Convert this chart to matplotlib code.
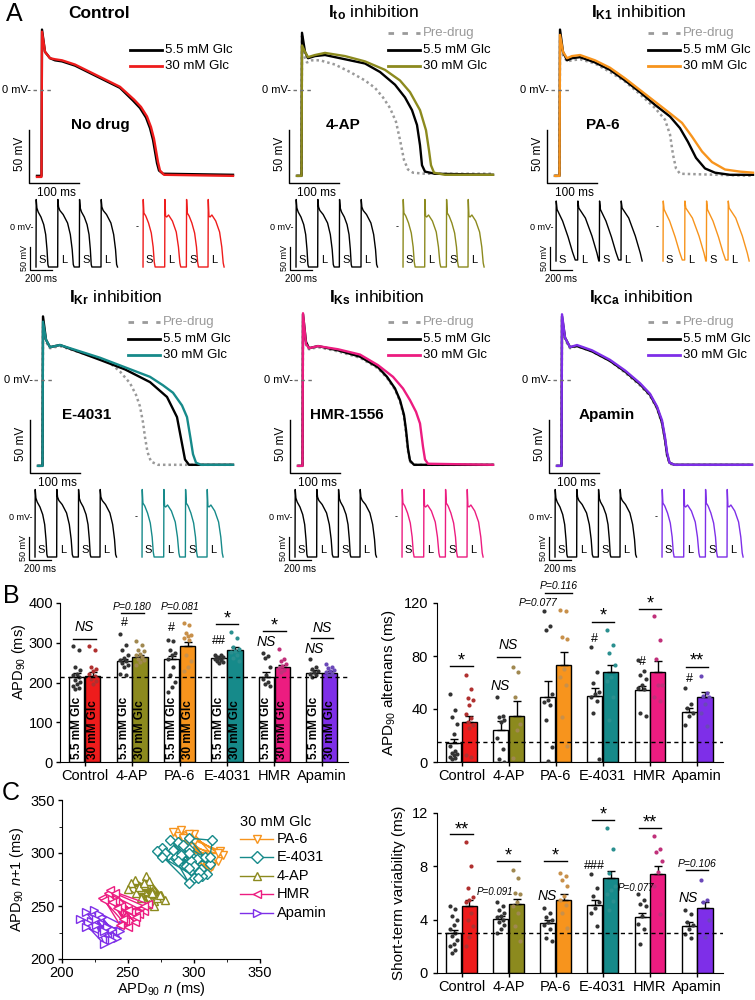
import numpy as np
import matplotlib
matplotlib.use("Agg")
import matplotlib.pyplot as plt
from matplotlib.lines import Line2D
from matplotlib.ticker import MultipleLocator

plt.rcParams['font.family'] = ['Liberation Sans', 'DejaVu Sans']
plt.rcParams['mathtext.fontset'] = 'custom'
plt.rcParams['mathtext.rm'] = 'Liberation Sans'
plt.rcParams['mathtext.it'] = 'Liberation Sans:italic'
plt.rcParams['mathtext.bf'] = 'Liberation Sans:bold'

W, H = 755, 1000

# colours
C_RED = '#ee1c1c'
C_OLIVE = '#8c8a1e'
C_ORANGE = '#f7941d'
C_TEAL = '#168a8a'
C_PINK = '#ec1c80'
C_PURPLE = '#7e2fe8'
C_GRAY = '#9a9a9a'
glc_colors = [C_RED, C_OLIVE, C_ORANGE, C_TEAL, C_PINK, C_PURPLE]
glc_dot_colors = ['#b0302f', '#a08850', '#c8904a', '#2a8f8f', '#c0307a', '#6a48b8']

# ---------------- Panel A : action potentials (t ms from upstroke, V mV) ----------------
ctrl55_t = [-10, -1, 0, 6, 16, 26, 40, 66, 96, 126, 156, 182, 196, 208, 216, 222, 226, 230, 234, 242, 382]
ctrl55_v = [-81, -81, 57, 36, 30, 28, 27, 23, 16, 9, 2, -10, -17, -26, -36, -47, -58, -69, -76, -79, -80]
ctrl30_t = [-10, -1, 0, 6, 16, 26, 40, 66, 96, 126, 156, 184, 198, 210, 218, 224, 228, 232, 236, 244, 382]
ctrl30_v = [-82, -82, 55, 36, 30, 29, 28, 24, 17, 10, 3, -9, -16, -25, -35, -46, -57, -68, -76, -80, -81]

ito_pre_t = [-10, -1, 0, 4, 10, 20, 36, 66, 96, 126, 146, 162, 176, 188, 196, 204, 212, 222, 246, 382]
ito_pre_v = [-81, -81, 51, 33, 26, 28, 28, 24, 17, 9, 2, -7, -17, -30, -47, -66, -75, -78, -79, -79]
ito55_t = [-10, -1, 0, 6, 12, 26, 46, 86, 126, 156, 186, 206, 220, 230, 236, 240, 246, 266, 382]
ito55_v = [-81, -81, 54, 36, 30, 32, 33, 29, 25, 17, 5, -7, -19, -33, -52, -71, -77, -79, -80]
ito30_t = [-10, -1, 0, 6, 12, 26, 46, 86, 126, 166, 196, 216, 236, 248, 254, 258, 264, 286, 382]
ito30_v = [-81, -81, 42, 36, 31, 33, 35, 32, 27, 19, 9, -2, -19, -38, -57, -71, -78, -80, -80]

ik1_pre_t = [-10, -1, 0, 6, 14, 24, 40, 70, 100, 130, 160, 190, 210, 220, 226, 232, 240, 386]
ik1_pre_v = [-81, -81, 47, 33, 27, 28, 29, 25, 17, 8, -4, -17, -28, -42, -61, -74, -79, -81]
ik155_t = [-10, -1, 0, 6, 14, 24, 40, 70, 100, 130, 160, 190, 220, 240, 256, 272, 290, 310, 340, 386]
ik155_v = [-81, -81, 57, 36, 28, 30, 31, 26, 19, 9, -2, -14, -25, -36, -49, -64, -74, -78, -80, -80]
ik130_t = [-10, -1, 0, 6, 14, 24, 40, 70, 100, 130, 160, 190, 220, 244, 264, 284, 304, 330, 360, 386]
ik130_v = [-81, -81, 52, 36, 30, 32, 33, 28, 21, 11, 0, -11, -22, -31, -44, -58, -68, -75, -77, -78]

ikr_pre_t = [-10, -1, 0, 6, 14, 34, 74, 114, 134, 154, 174, 186, 194, 200, 204, 209, 216, 230, 380]
ikr_pre_v = [-81, -81, 50, 36, 30, 32, 26, 20, 16, 8, -3, -14, -25, -40, -54, -68, -77, -80, -80]
ikr55_t = [-10, -1, 0, 6, 14, 34, 74, 114, 164, 214, 248, 268, 278, 284, 292, 380]
ikr55_v = [-81, -81, 60, 38, 31, 33, 26, 19, 10, -2, -16, -35, -60, -75, -80, -80]
ikr30_t = [-10, -1, 0, 6, 14, 34, 74, 114, 164, 214, 240, 260, 278, 288, 295, 300, 306, 316, 380]
ikr30_v = [-81, -81, 55, 38, 31, 33, 27, 21, 12, 3, -5, -12, -24, -35, -55, -70, -78, -80, -80]

iks_pre_t = [-10, -1, 0, 6, 12, 30, 70, 114, 150, 168, 184, 194, 202, 206, 210, 214, 222, 380]
iks_pre_v = [-81, -81, 55, 33, 29, 31, 27, 21, 11, 2, -9, -20, -35, -50, -67, -77, -80, -80]
iks55_t = [-10, -1, 0, 6, 12, 30, 70, 114, 150, 168, 184, 194, 202, 206, 210, 214, 222, 380]
iks55_v = [-81, -81, 62, 36, 30, 32, 28, 22, 12, 3, -8, -19, -33, -47, -65, -76, -80, -80]
iks30_t = [-10, -1, 0, 6, 12, 30, 70, 114, 150, 180, 200, 214, 226, 234, 240, 244, 250, 380]
iks30_v = [-81, -81, 63, 34, 30, 32, 29, 24, 14, 3, -8, -19, -30, -41, -63, -75, -79, -80]

ikca_t = [-10, -1, 0, 6, 16, 30, 60, 96, 126, 156, 176, 190, 200, 206, 210, 215, 225, 380]
ikca_pre_v = [-81, -81, 58, 38, 30, 32, 27, 18, 7, -5, -15, -27, -41, -57, -71, -79, -80, -80]
ikca55_v = [-81, -81, 60, 40, 31, 32, 27, 18, 8, -4, -14, -26, -40, -56, -70, -78, -80, -80]
ikca30_v = [-81, -81, 62, 40, 31, 33, 28, 19, 9, -3, -13, -25, -38, -54, -68, -78, -80, -80]

# small trains: beat shapes (ms, mV) and beat onsets
beat_s_t = [0, 2, 8, 20, 45, 70, 88, 100, 108, 114]
beat_s_v = [-80, 55, 38, 30, 20, 5, -15, -45, -75, -80]
beat_l_t = [0, 2, 8, 20, 50, 90, 115, 132, 142, 150]
beat_l_v = [-80, 55, 40, 33, 25, 8, -15, -45, -75, -80]
glc_s_t = [0, 2, 8, 25, 50, 75, 92, 102, 110]
glc_s_v = [-80, 55, 28, 22, 8, -12, -40, -70, -80]
glc_l_t = [0, 2, 8, 18, 35, 70, 105, 125, 138, 146]
glc_l_v = [-80, 55, 22, 20, 24, 12, -10, -40, -72, -80]
pa6_s_t = [0, 2, 10, 60, 110, 150, 175]
pa6_s_v = [-68, 52, 35, 12, -20, -50, -66]
pa6_l_t = [0, 2, 10, 70, 130, 175, 192]
pa6_l_v = [-66, 52, 38, 18, -18, -52, -68]
beat_onsets = [0, 197, 394, 591]
beat_kind = ['S', 'L', 'S', 'L']

# ---------------- Panel B / C : bar data ----------------
groups = ['Control', '4-AP', 'PA-6', 'E-4031', 'HMR', 'Apamin']

apd_55 = [215, 253, 258, 261, 215, 225]
apd_55_err = [10, 7, 8, 5, 12, 6]
apd_30 = [217, 263, 291, 283, 238, 224]
apd_30_err = [9, 5, 12, 6, 7, 4]
apd_55_dots = [[291, 283, 240, 232, 222, 218, 213, 207, 201, 195, 190, 186, 183],
               [323, 294, 281, 268, 262, 257, 253, 249, 245, 240, 222, 218],
               [308, 304, 281, 274, 270, 258, 240, 218, 201, 188, 175],
               [270, 268, 265, 263, 261, 259, 257, 255, 252, 250],
               [274, 266, 262, 240, 218, 209, 201, 195, 190],
               [258, 240, 235, 230, 226, 222, 218, 213]]
apd_30_dots = [[291, 281, 240, 234, 228, 222, 216, 210, 203, 196],
               [305, 294, 283, 278, 272, 268, 264, 260, 257, 252, 244],
               [350, 344, 325, 320, 316, 312, 306, 268, 255, 240, 228],
               [327, 313, 290, 284, 280, 276, 270, 262, 255],
               [285, 260, 254, 247, 242, 237, 232, 226],
               [246, 240, 236, 232, 229, 226, 222, 218]]

alt_55 = [14, 24, 49, 50, 54, 38]
alt_55_err = [3, 7, 12, 6, 3, 3]
alt_30 = [30, 35, 73, 68, 68, 49]
alt_30_err = [5, 11, 10, 5, 8, 4]
alt_55_dots = [[51, 39, 34, 29, 21, 12, 8, 7, 6, 5, 4, 3, 2],
               [49, 35, 34, 32, 30, 18, 10, 2, 0],
               [114, 103, 100, 51, 47, 45, 43, 32, 11, 1],
               [87, 68, 60, 53, 51, 49, 46, 37, 2],
               [77, 69, 66, 63, 58, 56, 55, 37, 35],
               [56, 44, 41, 37, 35, 28]]
alt_30_dots = [[66, 55, 48, 47, 43, 36, 33, 30, 28, 26, 5, 4],
               [72, 68, 49, 29, 24, 3],
               [115, 114, 94, 93, 70, 64, 58, 34, 12],
               [100, 88, 82, 73, 64, 61, 49, 32],
               [110, 92, 78, 58, 58, 49, 46],
               [65, 52, 50, 49, 44, 37, 27]]

stv_55 = [3.0, 4.05, 3.75, 5.1, 4.2, 3.5]
stv_55_err = [0.25, 0.2, 0.25, 0.35, 0.3, 0.3]
stv_30 = [5.0, 5.2, 5.45, 7.1, 7.45, 4.9]
stv_30_err = [0.5, 0.35, 0.45, 0.55, 0.6, 0.4]
stv_55_dots = [[5.0, 4.8, 4.3, 4.0, 3.6, 3.3, 3.0, 2.8, 2.5, 2.2, 2.0, 1.7, 1.5],
               [5.3, 5.0, 4.7, 4.5, 4.3, 4.2, 4.0, 3.8, 3.6, 3.3, 3.0],
               [4.9, 4.5, 4.2, 4.0, 3.8, 3.6, 3.3, 2.6, 2.4],
               [7.4, 6.4, 5.8, 5.3, 4.9, 4.5, 3.5],
               [5.9, 5.5, 5.2, 5.0, 4.3, 3.7, 3.3, 2.2],
               [4.7, 4.4, 3.8, 3.6, 3.3, 2.9, 2.6]]
stv_30_dots = [[9.8, 8.0, 6.4, 5.7, 5.5, 5.3, 4.5, 4.0, 3.5, 2.7, 2.0],
               [7.7, 7.1, 6.0, 5.9, 5.3, 5.0, 4.5, 3.5, 2.4],
               [7.5, 7.3, 7.0, 6.5, 5.8, 5.5, 5.1, 4.5, 3.4],
               [10.9, 9.3, 7.5, 6.5, 6.2, 5.9, 5.4, 4.7],
               [10.3, 9.3, 9.1, 8.4, 7.6, 6.5, 4.4],
               [7.0, 5.5, 5.3, 4.0, 2.7]]

# Poincare: consecutive APD90 values (ms), 30 mM Glc
poin_pa6 = [300, 318, 292, 310, 288, 316, 296, 305, 284, 320, 302, 292, 312, 286, 300, 310, 290, 322,
            298, 306, 292, 314, 288, 304, 296, 318, 300, 296, 310]
poin_e4031 = [290, 300, 276, 305, 285, 296, 272, 302, 294, 288, 310, 280, 298, 292, 306, 278, 300, 286,
              296, 304, 282, 312, 290, 298, 284, 303, 276, 296, 300, 288, 292, 308, 296, 314, 312, 296, 286]
poin_4ap = [262, 270, 255, 275, 260, 266, 252, 272, 258, 268, 264, 278, 256, 262, 270, 250, 266, 274,
            260, 258, 268, 262, 272]
poin_hmr = [240, 255, 235, 262, 245, 250, 230, 258, 242, 248, 236, 265, 252, 244, 232, 256, 240, 262,
            250, 246, 238, 254]
poin_apamin = [230, 240, 222, 236, 218, 244, 226, 232, 214, 238, 228, 242, 220, 234, 230, 224, 246,
               232, 226, 238, 218, 230]

fig = plt.figure(figsize=(7.55, 10), dpi=100)


def box(x0, y0, x1, y1):
    return [x0 / W, 1 - y1 / H, (x1 - x0) / W, (y1 - y0) / H]


def ftext(x, y, s, **kw):
    fig.text(x / W, 1 - y / H, s, **kw)


def fline(xs, ys, **kw):
    fig.add_artist(Line2D([x / W for x in xs], [1 - y / H for y in ys], **kw))


PRE_LS = (0, (1, 1.2))

# panel A layout (pixel positions)
panels = [
    dict(title=None, tx=99, ty=13, drug='No drug', dt=116, up=42, zero=90,
         traces=[(ctrl55_t, ctrl55_v, 'k'), (ctrl30_t, ctrl30_v, C_RED)], col=C_RED,
         pre=None, lx=130, ly=33, sx=36, sz=227, small='std'),
    dict(title=r'$\mathbf{I_{to}}$ inhibition', tx=374, ty=13, drug='4-AP', dt=82, up=302, zero=90,
         traces=[(ito55_t, ito55_v, 'k'), (ito30_t, ito30_v, C_OLIVE)], col=C_OLIVE,
         pre=(ito_pre_t, ito_pre_v), lx=388, ly=33, sx=296, sz=227, small='std'),
    dict(title=r'$\mathbf{I_{K1}}$ inhibition', tx=639, ty=13, drug='PA-6', dt=86, up=560, zero=90,
         traces=[(ik155_t, ik155_v, 'k'), (ik130_t, ik130_v, C_ORANGE)], col=C_ORANGE,
         pre=(ik1_pre_t, ik1_pre_v), lx=648, ly=33, sx=556, sz=227, small='pa6'),
    dict(title=r'$\mathbf{I_{Kr}}$ inhibition', tx=116, ty=298, drug='E-4031', dt=88, up=43, zero=380,
         traces=[(ikr55_t, ikr55_v, 'k'), (ikr30_t, ikr30_v, C_TEAL)], col=C_TEAL,
         pre=(ikr_pre_t, ikr_pre_v), lx=128, ly=322, sx=35, sz=517, small='std'),
    dict(title=r'$\mathbf{I_{Ks}}$ inhibition', tx=377, ty=298, drug='HMR-1556', dt=88, up=303, zero=380,
         traces=[(iks55_t, iks55_v, 'k'), (iks30_t, iks30_v, C_PINK)], col=C_PINK,
         pre=(iks_pre_t, iks_pre_v), lx=388, ly=322, sx=295, sz=517, small='std'),
    dict(title=r'$\mathbf{I_{KCa}}$ inhibition', tx=641, ty=298, drug='Apamin', dt=90, up=562, zero=380,
         traces=[(ikca_t, ikca55_v, 'k'), (ikca_t, ikca30_v, C_PURPLE)], col=C_PURPLE,
         pre=(ikca_t, ikca_pre_v), lx=648, ly=322, sx=555, sz=517, small='std'),
]


def train(templates, offset):
    ts, vs = [], []
    for on, kind in zip(beat_onsets, beat_kind):
        tt, vv = templates[kind]
        ts += [offset + on + t for t in tt]
        vs += list(vv)
    return ts, vs


for p in panels:
    ax = fig.add_axes(box(p['up'] - 30, p['zero'] - 74.2, p['up'] + 200, p['zero'] + 106))
    ax.set_xlim(-60, 400)
    ax.set_ylim(-100, 70)
    ax.axis('off')
    if p['pre'] is not None:
        ax.plot(p['pre'][0], p['pre'][1], color=C_GRAY, lw=1.8, ls=PRE_LS)
    for t, v, c in p['traces']:
        ax.plot(t, v, color=c, lw=1.7)
    ax.plot([-26, -26, 74], [-38, -88, -88], color='k', lw=1, clip_on=False)
    ax.text(-44, -60, '50 mV', rotation=90, ha='center', va='center', fontsize=8.5)
    ax.text(28, -97, '100 ms', ha='center', va='center', fontsize=8.5)
    ax.plot([-18, 20], [0, 0], color='0.45', lw=1, ls=(0, (2.5, 2.5)))
    ax.text(-21, 0, '0 mV-', ha='right', va='center', fontsize=8)
    ax.text(p['dt'], -33, p['drug'], ha='center', va='center', fontsize=11, fontweight='bold')

    if p['title'] is None:
        ftext(p['tx'], p['ty'], 'Control', ha='center', va='center', fontsize=12.5, fontweight='bold')
    else:
        ftext(p['tx'], p['ty'], p['title'], ha='center', va='center', fontsize=12.5)

    # legend
    items = [('5.5 mM Glc', 'k', '-'), ('30 mM Glc', p['col'], '-')]
    if p['pre'] is not None:
        items = [('Pre-drug', C_GRAY, (0, (2, 3)))] + items
        ys = [p['ly'], p['ly'] + 17, p['ly'] + 33]
    else:
        ys = [p['ly'] + 17, p['ly'] + 33]
    for (lab, c, ls), y in zip(items, ys):
        fline([p['lx'], p['lx'] + 32], [y, y], color=c, lw=2, ls=ls)
        ftext(p['lx'] + 35, y, lab, ha='left', va='center', fontsize=9.5,
              color=C_GRAY if lab == 'Pre-drug' else 'k')

    # small trains
    sa = fig.add_axes(box(p['sx'] - 27.5, p['sz'] - 35, p['sx'] + 198, p['sz'] + 50))
    sa.set_xlim(-250, 1800)
    sa.set_ylim(-100, 70)
    sa.axis('off')
    if p['small'] == 'pa6':
        tk = {'S': (pa6_s_t, pa6_s_v), 'L': (pa6_l_t, pa6_l_v)}
        tc = tk
    else:
        tk = {'S': (beat_s_t, beat_s_v), 'L': (beat_l_t, beat_l_v)}
        tc = {'S': (glc_s_t, glc_s_v), 'L': (glc_l_t, glc_l_v)}
    t, v = train(tk, 0)
    sa.plot(t, v, color='k', lw=1)
    t, v = train(tc, 973)
    sa.plot(t, v, color=p['col'], lw=1)
    for off in (0, 973):
        for on, kind in zip(beat_onsets, beat_kind):
            sa.text(off + on + 60, -66, kind, ha='center', va='center', fontsize=8)
    sa.plot([-55, -55, 145], [-40, -86, -86], color='k', lw=0.9, clip_on=False)
    sa.text(-109, -62, '50 mV', rotation=90, ha='center', va='center', fontsize=6.5)
    sa.text(45, -104, '200 ms', ha='center', va='center', fontsize=7)
    sa.text(-27, 0, '0 mV-', ha='right', va='center', fontsize=6.5)
    sa.text(918, 0, '-', ha='center', va='center', fontsize=6.5)

ftext(14, 14, 'A', ha='center', va='center', fontsize=18)
ftext(11, 596, 'B', ha='center', va='center', fontsize=18)
ftext(11, 793, 'C', ha='center', va='center', fontsize=18)


# ---------------- bar panels ----------------
def bar_panel(ax, v55, e55, v30, e30, d55, d30, ref):
    x = np.arange(len(groups))
    ax.bar(x - 0.168, v55, 0.32, color='white', edgecolor='k', lw=1, zorder=2)
    ax.bar(x + 0.168, v30, 0.32, color=glc_colors, edgecolor='k', lw=1, zorder=2)
    z = np.zeros(len(groups))
    ax.errorbar(x - 0.168, v55, yerr=[z, e55], fmt='none', ecolor='k', elinewidth=1, capsize=3, zorder=3)
    ax.errorbar(x + 0.168, v30, yerr=[z, e30], fmt='none', ecolor='k', elinewidth=1, capsize=3, zorder=3)
    for i in range(len(groups)):
        n = len(d55[i])
        offs = ((np.arange(n) * 3) % 5 - 2) * 0.04
        ax.scatter(x[i] - 0.168 + offs, d55[i], s=9, color='#333333', zorder=4, lw=0)
        n = len(d30[i])
        offs = ((np.arange(n) * 3) % 5 - 2) * 0.04
        ax.scatter(x[i] + 0.168 + offs, d30[i], s=9, color=glc_dot_colors[i], zorder=4, lw=0)
    ax.axhline(ref, color='k', lw=1, ls=(0, (3, 2.5)), zorder=5)
    ax.set_xlim(-0.52, 5.55)
    ax.set_xticks(x)
    ax.set_xticklabels(groups, fontsize=10.5)
    ax.spines['top'].set_visible(False)
    ax.spines['right'].set_visible(False)
    ax.tick_params(axis='both', labelsize=10.5, length=3, width=1)
    ax.tick_params(axis='x', pad=2)


def sig(ax, g, y, text, ty, half=0.24, dx=0.0, fs=12, style='normal'):
    ax.plot([g + dx - half, g + dx + half], [y, y], color='k', lw=1, clip_on=False)
    ax.text(g + dx, ty, text, ha='center', va='center', fontsize=fs, style=style, clip_on=False)


def note(ax, x, y, text, fs=9, style='normal'):
    ax.text(x, y, text, ha='center', va='center', fontsize=fs, style=style, clip_on=False)


# B left
axb1 = fig.add_axes(box(60, 603, 348, 762))
bar_panel(axb1, apd_55, apd_55_err, apd_30, apd_30_err, apd_55_dots, apd_30_dots, 215)
axb1.set_ylim(0, 400)
axb1.set_yticks([0, 100, 200, 300, 400])
axb1.tick_params(axis='y', pad=2)
for i in range(6):
    axb1.text(i - 0.168, 8, '5.5 mM Glc', rotation=90, ha='center', va='bottom', fontsize=8.5,
              fontweight='bold', zorder=6)
    axb1.text(i + 0.168, 8, '30 mM Glc', rotation=90, ha='center', va='bottom', fontsize=8.5,
              fontweight='bold', zorder=6)
ftext(19, 662, r'APD$_{90}$ (ms)', rotation=90, ha='center', va='center', fontsize=10.5)
sig(axb1, 0, 309, 'NS', 340, fs=10, style='italic')
sig(axb1, 1, 375, 'P=0.180', 391, fs=7.5, style='italic')
note(axb1, 1 - 0.17, 350, '#', fs=9)
sig(axb1, 2, 375, 'P=0.081', 391, fs=7.5, style='italic')
note(axb1, 2 - 0.17, 336, '#', fs=9)
sig(axb1, 3, 347, '*', 360, fs=13)
note(axb1, 3 - 0.17, 305, '##', fs=9)
sig(axb1, 4, 329, '*', 343, fs=13)
note(axb1, 4 - 0.17, 302, 'NS', fs=10, style='italic')
sig(axb1, 5, 311, 'NS', 338, fs=10, style='italic')
note(axb1, 5 - 0.17, 284, 'NS', fs=10, style='italic')

# B right
axb2 = fig.add_axes(box(437, 603, 723, 762))
bar_panel(axb2, alt_55, alt_55_err, alt_30, alt_30_err, alt_55_dots, alt_30_dots, 15)
axb2.set_ylim(0, 120)
axb2.set_yticks([0, 40, 80, 120])
axb2.set_ylabel(r'APD$_{90}$ alternans (ms)', fontsize=11, labelpad=4)
sig(axb2, 0, 72.5, '*', 76, fs=13)
sig(axb2, 1, 79, 'NS', 88, fs=10, style='italic')
note(axb2, 1 - 0.17, 57, 'NS', fs=10, style='italic')
sig(axb2, 2, 127.5, 'P=0.116', 133, half=0.29, dx=0.06, fs=7.5, style='italic')
note(axb2, 1.62, 120, 'P=0.077', fs=7.5, style='italic')
sig(axb2, 3, 106, '*', 110, fs=13)
note(axb2, 3 - 0.17, 93, '#', fs=9)
sig(axb2, 4, 115.5, '*', 119, fs=13)
note(axb2, 4 - 0.17, 75.5, '#', fs=9)
sig(axb2, 5, 72, '**', 76, fs=13)
note(axb2, 5 - 0.17, 63, '#', fs=9)

# C right
axc2 = fig.add_axes(box(437, 813, 723, 973))
bar_panel(axc2, stv_55, stv_55_err, stv_30, stv_30_err, stv_55_dots, stv_30_dots, 3.0)
axc2.set_ylim(0, 12)
axc2.set_yticks([0, 4, 8, 12])
axc2.set_ylabel('Short-term variability (ms)', fontsize=11, labelpad=4)
sig(axc2, 0, 10.4, '**', 10.75, fs=13)
sig(axc2, 1, 8.4, '*', 8.75, fs=13)
note(axc2, 0.71, 6.1, 'P=0.091', fs=7, style='italic')
sig(axc2, 2, 8.4, '*', 8.75, fs=13)
note(axc2, 1.81, 5.8, 'NS', fs=10, style='italic')
sig(axc2, 3, 11.5, '*', 11.85, fs=13)
note(axc2, 2.82, 8.0, '###', fs=9)
sig(axc2, 4, 10.9, '**', 11.25, fs=13)
note(axc2, 3.70, 6.4, 'P=0.077', fs=7, style='italic')
sig(axc2, 5, 7.7, 'P=0.106', 8.2, fs=7.5, style='italic')
note(axc2, 4.81, 5.6, 'NS', fs=10, style='italic')

# C left : Poincare plot
axc1 = fig.add_axes(box(62, 800, 260, 959))
series = [('PA-6', poin_pa6, C_ORANGE, 'v'), ('E-4031', poin_e4031, C_TEAL, 'D'),
          ('4-AP', poin_4ap, C_OLIVE, '^'), ('HMR', poin_hmr, C_PINK, '<'),
          ('Apamin', poin_apamin, C_PURPLE, '>')]
draw_order = [0, 2, 4, 3, 1]
for k in draw_order:
    name, seq, c, m = series[k]
    ms = 5 if m == 'D' else 6
    axc1.plot(seq[:-1], seq[1:], color=c, lw=1, marker=m, ms=ms, mfc='white', mec=c, mew=1)
axc1.set_xlim(200, 350)
axc1.set_ylim(200, 350)
axc1.set_xticks([200, 250, 300, 350])
axc1.set_yticks([200, 250, 300, 350])
axc1.xaxis.set_minor_locator(MultipleLocator(25))
axc1.yaxis.set_minor_locator(MultipleLocator(25))
axc1.spines['top'].set_visible(False)
axc1.spines['right'].set_visible(False)
axc1.tick_params(axis='both', labelsize=10.5, length=3, width=1, pad=2)
axc1.tick_params(which='minor', length=2)
axc1.set_xlabel(r'APD$_{90}$ $n$ (ms)', fontsize=10.5, labelpad=0)
axc1.set_ylabel(r'APD$_{90}$ $n$+1 (ms)', fontsize=10.5, labelpad=3)

ftext(240, 822, '30 mM Glc', ha='left', va='center', fontsize=10.5)
leg_y = [839, 857, 876, 894, 913]
for (name, seq, c, m), y in zip(series, leg_y):
    fig.add_artist(Line2D([240 / W, 257 / W, 273 / W], [1 - y / H] * 3, color=c, lw=1, marker=m,
                          markevery=[1], ms=6, mfc='white', mec=c, mew=1))
    ftext(277, y, name, ha='left', va='center', fontsize=10.5)

fig.savefig('out.png', dpi=100)
